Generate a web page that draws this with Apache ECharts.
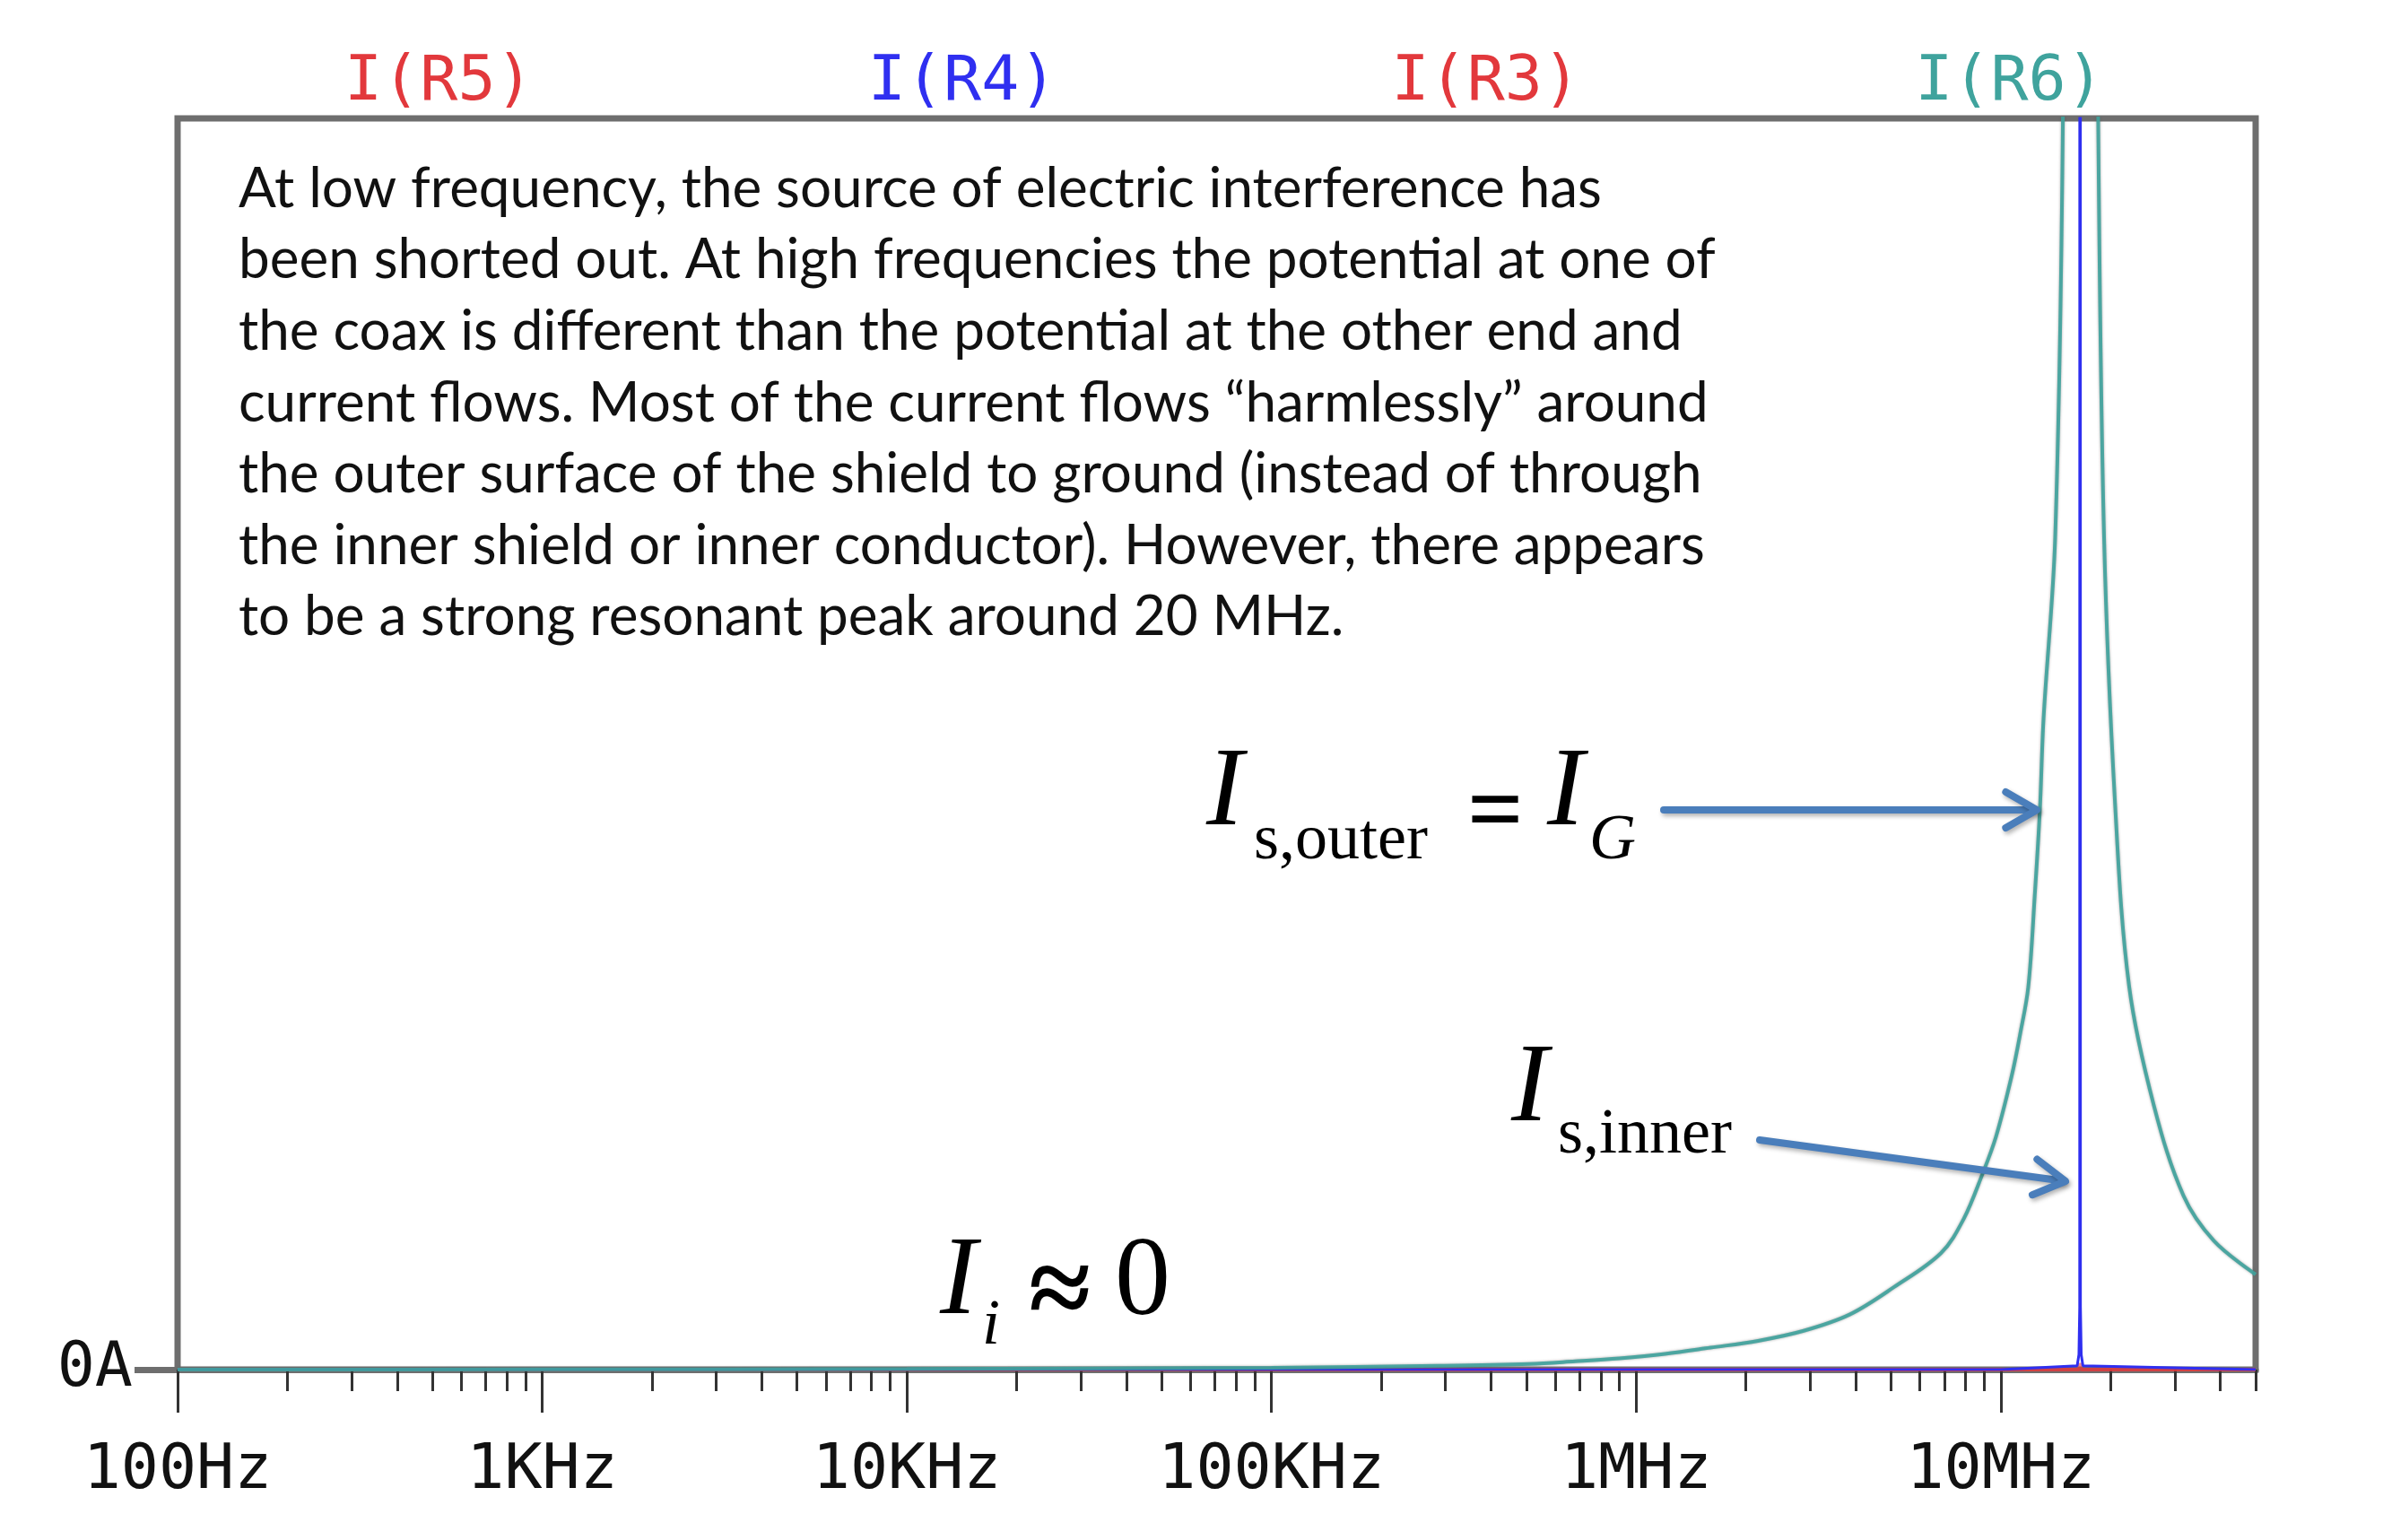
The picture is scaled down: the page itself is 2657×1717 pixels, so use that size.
<!DOCTYPE html>
<html>
<head>
<meta charset="utf-8">
<script src="https://cdn.jsdelivr.net/npm/echarts@6/dist/echarts.min.js"></script>
<style>
html, body { margin: 0; padding: 0; background: #fff; }
#chart { width: 2657px; height: 1717px; }
</style>
</head>
<body>
<div id="chart"></div>
<script>
// x axis: frequency, log scale from 100Hz to 50MHz
var xMin = 100, xMax = 5e7;
var xTickFreqs = [1e2, 1e3, 1e4, 1e5, 1e6, 1e7];
var xTickLabels = ['100Hz', '1KHz', '10KHz', '100KHz', '1MHz', '10MHz'];
var yTickValues = [0];
var yTickLabels = ['0A'];

// trace names / colours, in legend order
var traceNames = ['I(R5)', 'I(R4)', 'I(R3)', 'I(R6)'];
var traceColors = ['#e2383c', '#2f2ff0', '#e2383c', '#3fa39d'];

// I(R6) : shield outer current, resonant peak near 16.5MHz (arbitrary units, frame top = 100)
var r6Freq = [100, 1e3, 1e4, 1e5, 2.86e5, 5.1e5, 6.8e5, 9e5, 1.2e6, 1.6e6, 2.16e6, 2.88e6, 3.85e6, 5.1e6, 6.85e6,
              7.9e6, 8.9e6, 9.7e6, 10.7e6, 11.3e6, 11.9e6, 12.4e6, 12.8e6, 13.1e6, 14.1e6, 14.8e6, 15.6e6, 16.5e6,
              17.5e6, 18.5e6, 19.2e6, 20.6e6, 22.5e6, 26.3e6, 31.7e6, 38.4e6, 50e6];
var r6Amp  = [0, 0.01, 0.05, 0.15, 0.3, 0.45, 0.66, 0.9, 1.25, 1.75, 2.3, 3.1, 4.4, 6.6, 9.3,
              12.0, 15.6, 18.6, 23.4, 26.8, 30.6, 38, 44.7, 52, 66.5, 99.6, 200, 500,
              200, 100, 66.5, 45, 30.6, 21.1, 13.9, 10.3, 7.6];

// I(R4) : inner shield current, very narrow spike
var r4Freq = [100, 1e7, 16.2e6, 16.38e6, 16.46e6, 16.5e6, 16.54e6, 16.62e6, 16.8e6, 50e6];
var r4Amp  = [0, 0, 0.3, 1.2, 5, 800, 5, 1.2, 0.3, 0];

// I(R5), I(R3) : inner conductor, ~0
var r5Freq = [100, 50e6];
var r5Amp  = [0, 0];
var r3Freq = [100, 16.3e6, 16.5e6, 16.7e6, 50e6];
var r3Amp  = [0, 0, 0.5, 0, 0];

var noteLines = [
    'At low frequency, the source of electric interference has',
    'been shorted out. At high frequencies the potential at one of',
    'the coax is different than the potential at the other end and',
    'current flows. Most of the current flows \u201charmlessly\u201d around',
    'the outer surface of the shield to ground (instead of through',
    'the inner shield or inner conductor). However, there appears',
    'to be a strong resonant peak around 20 MHz.'
];

function pairs(xs, ys) {
    var out = [];
    for (var i = 0; i < xs.length; i++) out.push([xs[i], ys[i]]);
    return out;
}

// minor ticks at 2..9 of every decade
var minorTicks = [];
for (var d = 2; d < 8; d++)
    for (var k = 2; k <= 9; k++) {
        var f = k * Math.pow(10, d);
        if (f <= xMax) minorTicks.push(Math.log10(f));
    }

var monoFont = 'DejaVu Sans Mono';
var serif = 'Liberation Serif';
var arrowColor = '#4a7ebb';

function mathText(str, x, baseline, size, italic, bold) {
    return {
        type: 'text', x: x, y: baseline - 0.3375 * size, z: 100,
        style: {
            text: str, fontFamily: serif, fontSize: size,
            fontStyle: italic ? 'italic' : 'normal',
            fontWeight: bold ? 'bold' : 'normal',
            fill: '#000', align: 'left', verticalAlign: 'middle'
        }
    };
}

function arrow(x1, y1, x2, y2) {
    var a = Math.atan2(y2 - y1, x2 - x1), len = 40, spread = Math.PI / 6;
    var style = {
        stroke: arrowColor, lineWidth: 8, lineCap: 'round', lineJoin: 'round', fill: null,
        shadowBlur: 5, shadowColor: 'rgba(0,0,0,0.3)', shadowOffsetX: 2, shadowOffsetY: 3
    };
    return [
        { type: 'line', z: 100, shape: { x1: x1, y1: y1, x2: x2 - 4 * Math.cos(a), y2: y2 - 4 * Math.sin(a) }, style: style },
        { type: 'polyline', z: 100, shape: { points: [
            [x2 - len * Math.cos(a - spread), y2 - len * Math.sin(a - spread)],
            [x2, y2],
            [x2 - len * Math.cos(a + spread), y2 - len * Math.sin(a + spread)]
        ] }, style: style }
    ];
}

var chart = echarts.init(document.getElementById('chart'), null, { renderer: 'canvas' });

var graphics = [
    {
        type: 'text', x: 266, y: 171, z: 100,
        style: {
            text: noteLines.join('\n'), fontFamily: 'Lato', fontSize: 62, lineHeight: 79.6,
            fill: '#111', align: 'left', verticalAlign: 'top'
        }
    },
    mathText('I', 1345, 928, 124, true),
    mathText('s,outer', 1398, 962, 72),
    mathText('=', 1636, 948, 110, false, true),
    mathText('I', 1725, 928, 124, true),
    mathText('G', 1772, 962, 72, true),
    mathText('I', 1685, 1258, 124, true),
    mathText('s,inner', 1737, 1290, 72),
    mathText('I', 1048, 1473, 124, true),
    mathText('i', 1095, 1503, 72, true),
    mathText('\u2248', 1147, 1488, 126, false, true),
    mathText('0', 1243, 1474, 124)
].concat(arrow(1855, 903, 2271, 903), arrow(1962, 1271, 2303, 1317));

var option = {
    animation: false,
    backgroundColor: '#fff',
    legend: {
        data: traceNames.map(function (n, i) {
            return { name: n, icon: 'none', textStyle: { color: traceColors[i] } };
        }),
        left: 374, top: 53,
        itemWidth: 0, itemHeight: 10, itemGap: 368,
        selectedMode: false,
        textStyle: { fontFamily: monoFont, fontSize: 70 }
    },
    grid: {
        left: 198, right: 142, top: 132, bottom: 190,
        show: true, borderColor: '#6e6e6e', borderWidth: 7,
        outerBoundsMode: 'none'
    },
    xAxis: [{
        type: 'log', logBase: 10, min: xMin, max: xMax,
        position: 'bottom',
        axisLine: { show: true, onZero: false, lineStyle: { color: '#6e6e6e', width: 7 } },
        axisTick: { show: true, length: 48, lineStyle: { color: '#333', width: 3 } },
        splitLine: { show: false },
        minorTick: { show: false },
        axisLabel: {
            margin: 79, fontFamily: monoFont, fontSize: 70, color: '#111',
            showMaxLabel: false,
            formatter: function (v) {
                for (var i = 0; i < xTickFreqs.length; i++)
                    if (Math.abs(v - xTickFreqs[i]) / xTickFreqs[i] < 1e-6) return xTickLabels[i];
                return '';
            }
        }
    }, {
        // overlay axis carrying only the 2..9 minor ticks
        type: 'value', min: 2, max: Math.log10(xMax),
        position: 'bottom',
        axisLine: { show: false, onZero: false },
        axisTick: { show: true, length: 24, customValues: minorTicks, lineStyle: { color: '#333', width: 3 } },
        axisLabel: { show: false },
        splitLine: { show: false }
    }],
    yAxis: {
        type: 'value', min: 0, max: 100,
        axisLine: { show: false },
        splitLine: { show: false },
        axisTick: { show: true, length: 48, customValues: yTickValues, lineStyle: { color: '#6e6e6e', width: 7 } },
        axisLabel: {
            customValues: yTickValues, margin: 50,
            fontFamily: monoFont, fontSize: 70, color: '#111',
            formatter: function (v) { return yTickLabels[yTickValues.indexOf(v)] || ''; }
        }
    },
    series: [
        {
            name: 'I(R5)', type: 'line', data: pairs(r5Freq, r5Amp), showSymbol: false,
            clip: true, color: traceColors[0],
            lineStyle: { color: traceColors[0], width: 4, opacity: 0.6 }
        },
        {
            name: 'I(R3)', type: 'line', data: pairs(r3Freq, r3Amp), showSymbol: false,
            clip: true, color: traceColors[2],
            lineStyle: { color: traceColors[2], width: 4, opacity: 0.6 }
        },
        {
            name: 'I(R4)', type: 'line', data: pairs(r4Freq, r4Amp), showSymbol: false,
            clip: true, color: traceColors[1],
            lineStyle: { color: traceColors[1], width: 3 }
        },
        {
            name: 'I(R6)', type: 'line', data: pairs(r6Freq, r6Amp), showSymbol: false,
            smooth: 0.35, clip: true, color: traceColors[3],
            lineStyle: {
                color: traceColors[3], width: 4, opacity: 0.9,
                shadowColor: 'rgba(80,80,80,0.55)', shadowBlur: 3
            }
        }
    ],
    graphic: graphics
};

chart.setOption(option);
</script>
</body>
</html>
